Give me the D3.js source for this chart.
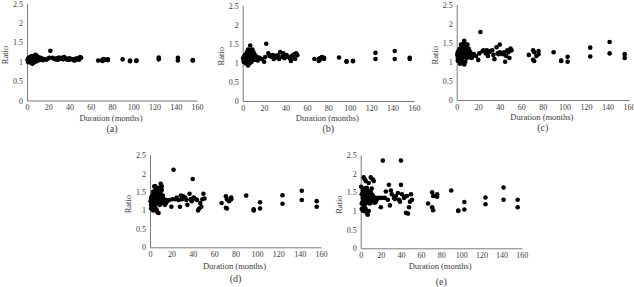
<!DOCTYPE html>
<html>
<head>
<meta charset="utf-8">
<script src="https://cdn.jsdelivr.net/npm/d3@7"></script>
<style>
  body { margin: 0; background: #fff; }
  svg { display: block; }
</style>
</head>
<body>
<script>
// durations (months), shared by all five panels
const duration = [
  0.5, 1, 1, 1, 2, 2, 2, 2, 3, 3, 3, 3, 3, 4, 4, 4, 4, 4, 5, 5, 5, 5, 5, 5,
  6, 6, 6, 6, 6, 6, 7, 7, 7, 7, 7, 8, 8, 8, 8, 8, 9, 9, 9, 9, 10, 10, 10, 10,
  11, 11, 11, 12, 12, 12, 13, 13, 14, 14, 15, 15,
  16, 18, 20, 21, 22, 24, 25, 27, 28, 29, 30, 31, 33, 34, 35, 37, 38, 39, 40, 40,
  41, 43, 44, 45, 46, 47, 48, 49, 50, 51,
  67, 71, 71, 72, 72, 74, 76, 76, 90, 97, 97, 103, 103, 124, 124, 142, 142, 156, 156
];

const ratioA = [
  1.05, 1.02, 1.08, 0.99, 1.04, 1.10, 1.00, 1.06, 1.03, 0.98, 1.12, 1.05, 1.01, 1.07, 1.14, 1.02, 1.09, 1.04, 0.95, 1.11, 1.06, 1.13, 1.00, 1.08,
  1.03, 1.10, 0.97, 1.07, 1.12, 1.05, 1.15, 1.02, 1.09, 1.06, 1.13, 1.18, 1.04, 1.10, 1.00, 1.07, 1.16, 1.05, 1.09, 1.02, 1.12, 1.06, 1.03, 1.09,
  1.07, 1.04, 1.10, 1.08, 1.05, 1.11, 1.06, 1.09, 1.05, 1.08, 1.06, 1.04,
  1.07, 1.05, 1.08, 1.10, 1.28, 1.10, 1.08, 1.06, 1.09, 1.05, 1.11, 1.07, 1.10, 1.06, 1.12, 1.08, 1.05, 1.07, 1.09, 1.05,
  1.07, 1.06, 1.04, 1.03, 1.08, 1.06, 1.09, 1.05, 1.12, 1.10,
  1.03, 1.02, 1.05, 1.07, 1.04, 1.05, 1.06, 1.04, 1.06, 1.01, 1.03, 1.02, 1.03, 1.06, 1.11, 1.03, 1.10, 1.03, 1.04
];

const ratioB = [
  1.12, 1.05, 1.15, 1.02, 1.10, 1.20, 1.03, 1.12, 1.08, 0.98, 1.22, 1.14, 1.06, 1.18, 1.28, 1.04, 1.16, 1.09, 0.93, 1.25, 1.13, 1.35, 1.05, 1.19,
  1.07, 1.22, 0.99, 1.15, 1.30, 1.10, 1.45, 1.00, 1.20, 1.12, 1.33, 1.30, 1.08, 1.25, 1.02, 1.17, 1.35, 1.10, 1.20, 1.06, 1.28, 1.14, 1.08, 1.18,
  1.15, 1.10, 1.22, 1.12, 1.08, 1.18, 1.10, 1.15, 1.12, 1.06, 1.10, 1.14,
  1.12, 1.10, 1.03, 1.15, 1.50, 1.25, 1.18, 1.15, 1.20, 1.10, 1.18, 1.14, 1.20, 1.10, 1.28, 1.16, 1.25, 1.12, 1.18, 1.15,
  1.20, 1.15, 1.12, 1.05, 1.18, 1.14, 1.22, 1.10, 1.25, 1.20,
  1.10, 1.05, 1.10, 1.12, 1.08, 1.15, 1.13, 1.10, 1.14, 1.03, 1.04, 1.04, 1.05, 1.10, 1.26, 1.10, 1.31, 1.10, 1.13
];

const ratioC = [
  1.18, 1.10, 1.25, 1.03, 1.20, 1.30, 1.05, 1.15, 1.12, 0.95, 1.35, 1.22, 1.08, 1.30, 1.45, 1.06, 1.25, 1.15, 0.97, 1.40, 1.20, 1.45, 1.10, 1.28,
  1.12, 1.38, 1.00, 1.25, 1.42, 1.18, 1.55, 0.93, 1.30, 1.22, 1.50, 1.35, 1.15, 1.40, 1.00, 1.28, 1.45, 1.18, 1.30, 1.10, 1.45, 1.22, 1.12, 1.32,
  1.25, 1.14, 1.35, 1.20, 1.12, 1.28, 1.15, 1.22, 1.18, 1.10, 1.15, 1.20,
  1.20, 1.15, 1.05, 1.22, 1.78, 1.28, 1.30, 1.22, 1.30, 1.15, 1.25, 1.28, 1.30, 1.18, 1.07, 1.38, 1.22, 1.20, 1.45, 1.25,
  1.22, 1.20, 1.25, 1.00, 1.15, 1.30, 1.25, 1.10, 1.35, 1.30,
  1.18, 1.05, 1.30, 1.02, 1.25, 1.15, 1.20, 1.28, 1.25, 1.03, 1.02, 1.00, 1.13, 1.14, 1.37, 1.22, 1.52, 1.10, 1.20
];

const ratioD = [
  1.25, 1.15, 1.35, 1.05, 1.30, 1.40, 1.08, 1.20, 1.18, 1.00, 1.50, 1.28, 1.12, 1.45, 1.65, 1.10, 1.35, 1.22, 1.02, 1.55, 1.30, 1.65, 1.15, 1.40,
  1.20, 1.60, 1.03, 1.35, 1.50, 1.25, 1.45, 0.95, 1.40, 1.32, 1.60, 1.40, 1.22, 1.55, 0.93, 1.35, 1.62, 1.28, 1.38, 1.15, 1.72, 1.30, 1.18, 1.45,
  1.65, 1.22, 1.55, 1.35, 1.20, 1.40, 1.25, 1.30, 1.22, 1.15, 1.20, 1.28,
  1.25, 1.28, 1.10, 1.30, 2.10, 1.30, 1.35, 1.28, 1.10, 1.40, 1.30, 1.38, 1.35, 1.28, 1.15, 1.45, 1.30, 1.25, 1.85, 1.32,
  1.35, 1.30, 1.28, 1.00, 1.05, 1.20, 1.10, 1.30, 1.45, 1.32,
  1.20, 1.07, 1.38, 1.05, 1.30, 1.25, 1.30, 1.35, 1.40, 1.00, 1.03, 1.05, 1.22, 1.18, 1.41, 1.28, 1.53, 1.10, 1.25
];

const ratioE = [
  1.65, 1.20, 1.45, 1.05, 1.35, 1.55, 1.02, 1.25, 1.30, 1.00, 1.90, 1.40, 1.15, 1.60, 1.85, 1.10, 1.50, 1.28, 1.05, 1.80, 1.40, 1.60, 1.20, 1.45,
  1.25, 1.62, 0.95, 1.55, 1.50, 1.35, 1.30, 0.90, 1.45, 1.38, 1.55, 1.75, 1.25, 1.50, 1.00, 1.42, 1.35, 1.30, 1.45, 1.20, 1.90, 1.38, 1.22, 1.50,
  1.42, 1.30, 1.60, 1.85, 1.28, 1.42, 1.80, 1.35, 1.30, 1.22, 1.25, 1.35,
  1.30, 1.35, 1.10, 1.35, 2.35, 1.35, 1.52, 1.30, 1.70, 1.15, 1.55, 1.45, 1.35, 1.32, 1.40, 1.48, 1.30, 1.25, 2.35, 1.70,
  1.45, 1.35, 1.38, 0.95, 1.40, 0.93, 1.10, 1.25, 1.45, 1.30,
  1.20, 1.10, 1.50, 1.02, 1.40, 1.40, 1.45, 1.38, 1.55, 1.01, 1.00, 1.04, 1.24, 1.18, 1.36, 1.30, 1.63, 1.10, 1.30
];

const panelNames = ["(a)", "(b)", "(c)", "(d)", "(e)"];
const panelRatios = [ratioA, ratioB, ratioC, ratioD, ratioE];

const xTicks = [0, 20, 40, 60, 80, 100, 120, 140, 160];
const yTicks = [0, 0.5, 1, 1.5, 2, 2.5];

// panel placement: plot area left/right/top/bottom, title and caption baselines
const layout = [
  { left: 27, right: 197, top: 3.5, bottom: 100.5, titleY: 120.5, capY: 131.5 },
  { left: 242.7, right: 414, top: 5.5, bottom: 101, titleY: 120.5, capY: 131.5 },
  { left: 456.7, right: 629, top: 4.5, bottom: 100, titleY: 119.5, capY: 130.5 },
  { left: 150, right: 321, top: 155, bottom: 247.3, titleY: 268.5, capY: 282 },
  { left: 360.7, right: 521.7, top: 155, bottom: 248.3, titleY: 268.5, capY: 284.5 }
];

const W = 634, H = 287;
const font = "'Liberation Serif', 'Times New Roman', serif";
const textColor = "#3a3a3a";

const svg = d3.select("body").append("svg")
  .attr("width", W)
  .attr("height", H);

panelNames.forEach((name, i) => {
  const L = layout[i];
  const ratios = panelRatios[i];

  const x = d3.scaleLinear().domain([0, 160]).range([L.left, L.right]);
  const y = d3.scaleLinear().domain([0, 2.5]).range([L.bottom, L.top]);

  const g = svg.append("g");

  // y axis
  const yAxis = g.append("g")
    .attr("transform", `translate(${L.left},0)`)
    .call(d3.axisLeft(y).tickValues(yTicks).tickSize(0).tickPadding(4)
      .tickFormat(d => String(d)));
  yAxis.select(".domain").attr("stroke", "#7a7a7a").attr("stroke-width", 1);
  yAxis.selectAll("text")
    .style("font-family", font)
    .style("font-size", "8px")
    .attr("fill", textColor);

  // x axis
  const xAxis = g.append("g")
    .attr("transform", `translate(0,${L.bottom})`)
    .call(d3.axisBottom(x).tickValues(xTicks).tickSize(0).tickPadding(4));
  xAxis.select(".domain").attr("stroke", "#7a7a7a").attr("stroke-width", 1);
  xAxis.selectAll("text")
    .style("font-family", font)
    .style("font-size", "8px")
    .attr("fill", textColor);

  // points
  g.selectAll("circle")
    .data(duration.map((d, k) => ({ dur: d, ratio: ratios[k] })))
    .enter()
    .append("circle")
    .attr("cx", d => x(d.dur))
    .attr("cy", d => y(d.ratio))
    .attr("r", 2.3)
    .attr("fill", "#000");

  // axis titles
  g.append("text")
    .attr("x", (L.left + L.right) / 2 - 1)
    .attr("y", L.titleY)
    .attr("text-anchor", "middle")
    .style("font-family", font)
    .style("font-size", "8.5px")
    .attr("fill", textColor)
    .text("Duration (months)");

  g.append("text")
    .attr("transform", `translate(${L.left - 19},${(L.top + L.bottom) / 2 + 3}) rotate(-90)`)
    .attr("text-anchor", "middle")
    .style("font-family", font)
    .style("font-size", "8.5px")
    .attr("fill", textColor)
    .text("Ratio");

  // caption
  g.append("text")
    .attr("x", (L.left + L.right) / 2)
    .attr("y", L.capY)
    .attr("text-anchor", "middle")
    .style("font-family", font)
    .style("font-size", "10px")
    .attr("fill", textColor)
    .text(name);
});
</script>
</body>
</html>
